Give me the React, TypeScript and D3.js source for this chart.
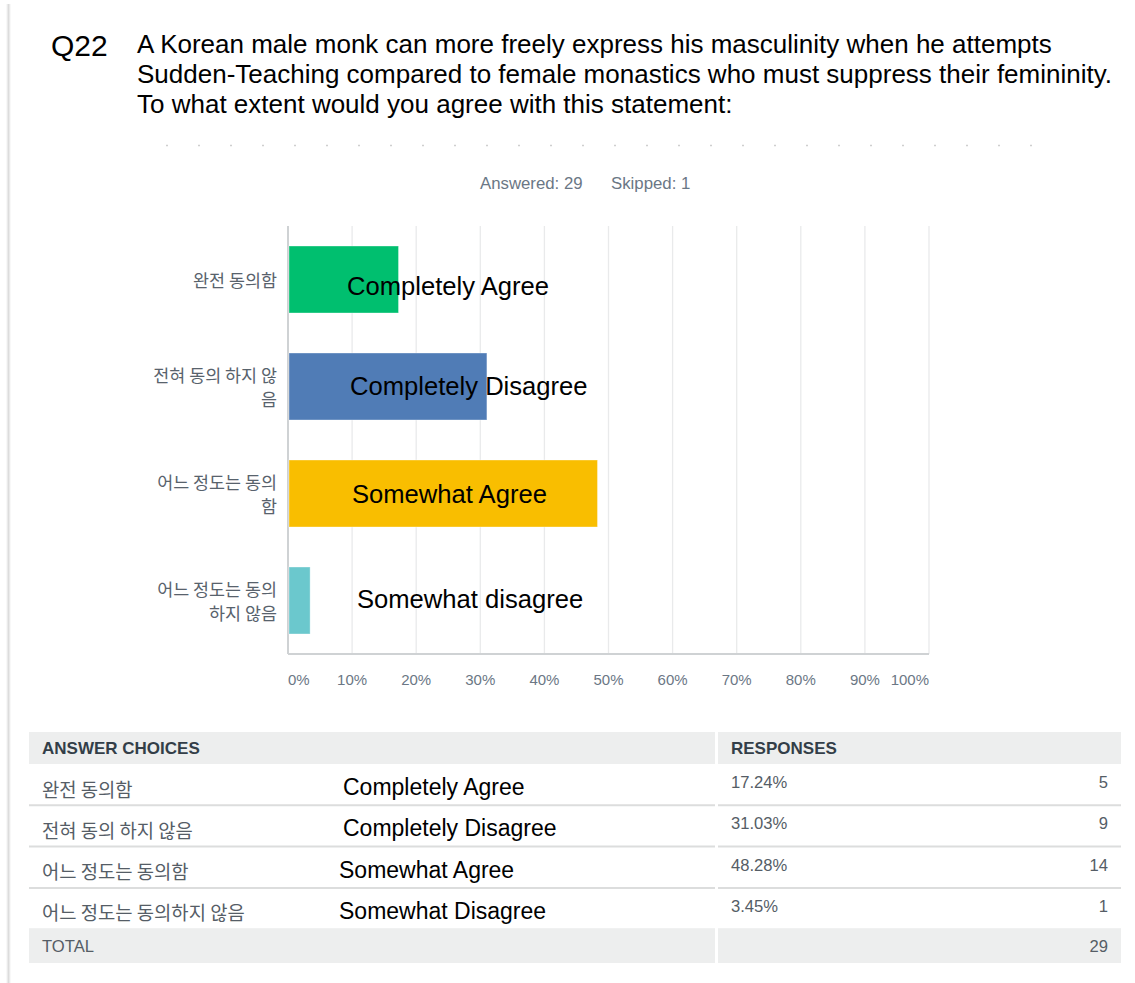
import React from "react";
import * as d3 from "d3";

// ---------- DATA ----------
const categories = ["완전 동의함", "전혀 동의 하지 않음", "어느 정도는 동의함", "어느 정도는 동의하지 않음"];
const axisLabels = ["완전 동의함", "전혀 동의 하지 않\n음", "어느 정도는 동의\n함", "어느 정도는 동의\n하지 않음"];
const englishChart = ["Completely Agree", "Completely Disagree", "Somewhat Agree", "Somewhat disagree"];
const englishTable = ["Completely Agree", "Completely Disagree", "Somewhat Agree", "Somewhat Disagree"];
const percents = [17.24, 31.03, 48.28, 3.45];
const counts = [5, 9, 14, 1];
const total = 29;
const skipped = 1;
const barColors = ["#00bf6f", "#507cb6", "#f9be00", "#6bc8cd"];
const xTicks = [0, 10, 20, 30, 40, 50, 60, 70, 80, 90, 100];
const titleLines = [
  "A Korean male monk can more freely express his masculinity when he attempts",
  "Sudden-Teaching compared to female monastics who must suppress their femininity.",
  "To what extent would you agree with this statement:",
];
const questionId = "Q22";

// ---------- LAYOUT ----------
const W = 1135;
const H = 983;
const LAT = "'Liberation Sans', Arial, Helvetica, sans-serif";
const KR = "'Noto Sans CJK KR', 'Noto Sans', sans-serif";
const plot = { left: 288, right: 929, top: 226, bottom: 654 };
const overlayX = [347, 350, 352, 357];
const overlayDy = [15.5, 8.5, 9.3, 7.2];
const table = { left: 29, right: 1121, split: 716, headTop: 732, headBottom: 764, rowH: 41.3 };

export default function App() {
  const x = d3.scaleLinear().domain([0, 100]).range([plot.left, plot.right]);
  const y = d3
    .scaleBand<string>()
    .domain(categories)
    .range([plot.top, plot.bottom])
    .paddingInner(0.374)
    .paddingOuter(0.187);

  const rowsTop = table.headBottom;
  const rowY = (i: number) => rowsTop + i * table.rowH;
  const totalTop = rowY(categories.length) - 1;

  return (
    <svg
      width={W}
      height={H}
      style={{ position: "absolute", left: 0, top: 0, background: "#fff" }}
    >
      <defs>
        <linearGradient id="shadow" x1="0" x2="1" y1="0" y2="0">
          <stop offset="0" stopColor="#ffffff" />
          <stop offset="0.5" stopColor="#dcdcdc" />
          <stop offset="1" stopColor="#ffffff" />
        </linearGradient>
      </defs>
      <rect x={0} y={0} width={W} height={H} fill="#fff" />
      <rect x={6} y={4} width={5} height={H - 4} fill="url(#shadow)" />

      {/* Title */}
      <text x={51} y={56} fontFamily={LAT} fontSize={30} fill="#000">
        {questionId}
      </text>
      {titleLines.map((t, i) => (
        <text key={i} x={137} y={53 + i * 30} fontFamily={LAT} fontSize={26} fill="#000">
          {t}
        </text>
      ))}

      {/* faint dotted line */}
      <line x1={166} x2={1062} y1={145.5} y2={145.5} stroke="#cfcfcf" strokeWidth={1.5} strokeDasharray="2 30" />

      {/* Answered / Skipped */}
      <text x={480} y={189} fontFamily={LAT} fontSize={16.8} fill="#6b7785">
        {`Answered: ${total}`}
      </text>
      <text x={611} y={189} fontFamily={LAT} fontSize={16.8} fill="#6b7785">
        {`Skipped: ${skipped}`}
      </text>

      {/* gridlines */}
      {xTicks.map((t) => (
        <line
          key={t}
          x1={x(t)}
          x2={x(t)}
          y1={plot.top}
          y2={plot.bottom}
          stroke={t === 0 ? "#cfd2d4" : "#e9eaeb"}
          strokeWidth={t === 0 ? 2 : 1.3}
        />
      ))}
      <line x1={plot.left} x2={plot.right} y1={plot.bottom} y2={plot.bottom} stroke="#cfd2d4" strokeWidth={2} />

      {/* bars */}
      {categories.map((c, i) => (
        <rect
          key={c}
          x={x(0) + 1}
          y={y(c)}
          width={x(percents[i]) - x(0) - 1}
          height={y.bandwidth()}
          fill={barColors[i]}
          stroke="#ffffff"
          strokeOpacity={0.35}
          strokeWidth={1}
        />
      ))}

      {/* y axis labels */}
      {axisLabels.map((lab, i) => {
        const lines = lab.split("\n");
        const cy = (y(categories[i]) as number) + y.bandwidth() / 2;
        const lh = 24;
        const start = cy - ((lines.length - 1) * lh) / 2;
        return (
          <text
            key={i}
            textAnchor="end"
            fontFamily={KR}
            fontSize={17.4}
            fill="#58626c"
          >
            {lines.map((ln, j) => (
              <tspan key={j} x={277} y={start + j * lh} dominantBaseline="central">
                {ln}
              </tspan>
            ))}
          </text>
        );
      })}

      {/* x tick labels */}
      {xTicks.map((t, i) => (
        <text
          key={t}
          x={x(t)}
          y={685}
          textAnchor={i === 0 ? "start" : i === xTicks.length - 1 ? "end" : "middle"}
          fontFamily={LAT}
          fontSize={15}
          fill="#6b7785"
        >
          {`${t}%`}
        </text>
      ))}

      {/* overlay English labels */}
      {englishChart.map((t, i) => (
        <text
          key={t}
          x={overlayX[i]}
          y={(y(categories[i]) as number) + y.bandwidth() / 2 + overlayDy[i]}
          fontFamily={LAT}
          fontSize={25.6}
          fill="#000"
        >
          {t}
        </text>
      ))}

      {/* TABLE */}
      <rect x={table.left} y={table.headTop} width={table.split - table.left - 1} height={table.headBottom - table.headTop} fill="#edeeee" />
      <rect x={table.split + 2} y={table.headTop} width={table.right - table.split - 2} height={table.headBottom - table.headTop} fill="#edeeee" />
      <text x={42} y={754} fontFamily={LAT} fontSize={17} fontWeight="bold" fill="#333e48">
        ANSWER CHOICES
      </text>
      <text x={731} y={754} fontFamily={LAT} fontSize={17} fontWeight="bold" fill="#333e48">
        RESPONSES
      </text>

      {categories.map((c, i) => {
        const top = rowY(i);
        const bottom = rowY(i + 1);
        return (
          <g key={c}>
            {i < categories.length - 1 && (
              <>
                <line x1={table.left} x2={table.split - 1} y1={bottom} y2={bottom} stroke="#dcdddd" strokeWidth={2} />
                <line x1={table.split + 2} x2={table.right} y1={bottom} y2={bottom} stroke="#dcdddd" strokeWidth={2} />
              </>
            )}
            <text x={42} y={top + 24} dominantBaseline="central" fontFamily={KR} fontSize={18.8} fill="#555d66">
              {c}
            </text>
            <text x={i < 2 ? 343 : 339} y={top + 31} fontFamily={LAT} fontSize={23} fill="#000">
              {englishTable[i]}
            </text>
            <text x={731} y={top + 24} fontFamily={LAT} fontSize={16.6} fill="#555d66">
              {`${percents[i].toFixed(2)}%`}
            </text>
            <text x={1108} y={top + 24} textAnchor="end" fontFamily={LAT} fontSize={16.6} fill="#555d66">
              {counts[i]}
            </text>
          </g>
        );
      })}

      <rect x={table.left} y={totalTop} width={table.split - table.left - 1} height={963 - totalTop} fill="#edeeee" />
      <rect x={table.split + 2} y={totalTop} width={table.right - table.split - 2} height={963 - totalTop} fill="#edeeee" />
      <text x={42} y={952} fontFamily={LAT} fontSize={16.6} fill="#555d66">
        TOTAL
      </text>
      <text x={1108} y={952} textAnchor="end" fontFamily={LAT} fontSize={16.6} fill="#555d66">
        {d3.sum(counts)}
      </text>
    </svg>
  );
}
